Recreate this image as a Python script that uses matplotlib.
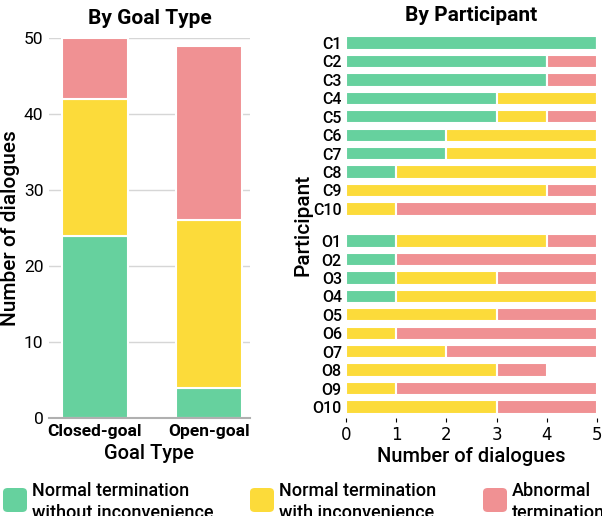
import matplotlib.pyplot as plt
from matplotlib.patches import FancyBboxPatch

plt.rcParams['font.family'] = ['Roboto', 'DejaVu Sans']

# data
goal_types = ["Closed-goal", "Open-goal"]
goal_normal = [24, 4]
goal_inconv = [18, 22]
goal_abnormal = [8, 23]

participants = ["C1", "C2", "C3", "C4", "C5", "C6", "C7", "C8", "C9", "C10",
                "O1", "O2", "O3", "O4", "O5", "O6", "O7", "O8", "O9", "O10"]
part_normal = [5, 4, 4, 3, 3, 2, 2, 1, 0, 0,
               1, 1, 1, 1, 0, 0, 0, 0, 0, 0]
part_inconv = [0, 0, 0, 2, 1, 3, 3, 4, 4, 1,
               3, 0, 2, 4, 3, 1, 2, 3, 1, 3]
part_abnormal = [0, 1, 1, 0, 1, 0, 0, 0, 1, 4,
                 1, 4, 2, 0, 2, 4, 3, 1, 4, 2]

labels = ["Normal termination\nwithout inconvenience",
          "Normal termination\nwith inconvenience",
          "Abnormal\ntermination"]
colors = ["#66d19e", "#fcdb3a", "#f09193"]

fig = plt.figure(figsize=(6.02, 5.16), dpi=100)

# left panel
ax1 = fig.add_axes([49/602, 1-418/516, 201/602, 380/516])
xs = [0, 1]
bottom = [0, 0]
for vals, c in zip([goal_normal, goal_inconv, goal_abnormal], colors):
    ax1.bar(xs, vals, bottom=bottom, width=0.58, color=c,
            edgecolor="white", linewidth=1.5, zorder=3)
    bottom = [b + v for b, v in zip(bottom, vals)]
ax1.set_xlim(-0.4, 1.36)
ax1.set_ylim(0, 50)
ax1.set_yticks(range(0, 51, 10))
ax1.set_xticks(xs)
ax1.set_xticklabels(goal_types, fontsize=12.5, fontweight="bold")
ax1.tick_params(axis="y", length=0, labelsize=12.5, pad=4)
ax1.tick_params(axis="x", length=0, pad=4)
ax1.grid(axis="y", color="#d6d6d6", linewidth=1, zorder=0)
for s in ["top", "right", "left"]:
    ax1.spines[s].set_visible(False)
ax1.spines["bottom"].set_color("#b0b0b0")
ax1.spines["bottom"].set_linewidth(1.5)
ax1.spines["bottom"].set_zorder(4)
ax1.set_ylabel("Number of dialogues", fontsize=15, fontweight="medium")
ax1.yaxis.set_label_coords(-0.143, 0.5)
ax1.set_xlabel("Goal Type", fontsize=14.5, fontweight="medium", labelpad=4)
ax1.set_title("By Goal Type", fontsize=15, fontweight="bold", pad=10)

# right panel
ax2 = fig.add_axes([346/602, 1-418/516, 251/602, 386/516])
ypos = [i for i in range(10)] + [10.75 + i for i in range(10)]
left = [0] * len(participants)
for vals, c in zip([part_normal, part_inconv, part_abnormal], colors):
    ax2.barh(ypos, vals, left=left, height=0.72, color=c,
             edgecolor="white", linewidth=1.5)
    left = [l + v for l, v in zip(left, vals)]
ax2.set_xlim(0, 5)
ax2.set_ylim(20.35, -0.6)
ax2.set_yticks(ypos)
ax2.set_yticklabels(participants, fontsize=11.5, fontweight="medium")
ax2.set_xticks(range(6))
ax2.set_xticklabels([str(i) for i in range(6)], fontsize=12, family="DejaVu Sans")
ax2.tick_params(axis="y", length=0, pad=3)
ax2.tick_params(axis="x", length=3, pad=3)
for s in ax2.spines.values():
    s.set_visible(False)
ax2.set_ylabel("Participant", fontsize=15, fontweight="medium")
ax2.yaxis.set_label_coords(-0.135, 0.5)
ax2.set_xlabel("Number of dialogues", fontsize=14.5, fontweight="medium", labelpad=2)
ax2.set_title("By Participant", fontsize=15, fontweight="bold", pad=8)

# legend along the bottom, clipped by the figure edge like the original
legend_x = [3, 250, 483]
for lx, lab, c in zip(legend_x, labels, colors):
    fig.patches.append(FancyBboxPatch((lx/602, 1-512/516), 24/602, 24/516,
                                      boxstyle="round,pad=0,rounding_size=0.008",
                                      transform=fig.transFigure,
                                      facecolor=c, edgecolor="none"))
    fig.text((lx+29)/602, 1-482/516, lab, fontsize=13, fontweight="medium",
             va="top", ha="left", linespacing=1.25)

fig.savefig("out.png", dpi=100)
